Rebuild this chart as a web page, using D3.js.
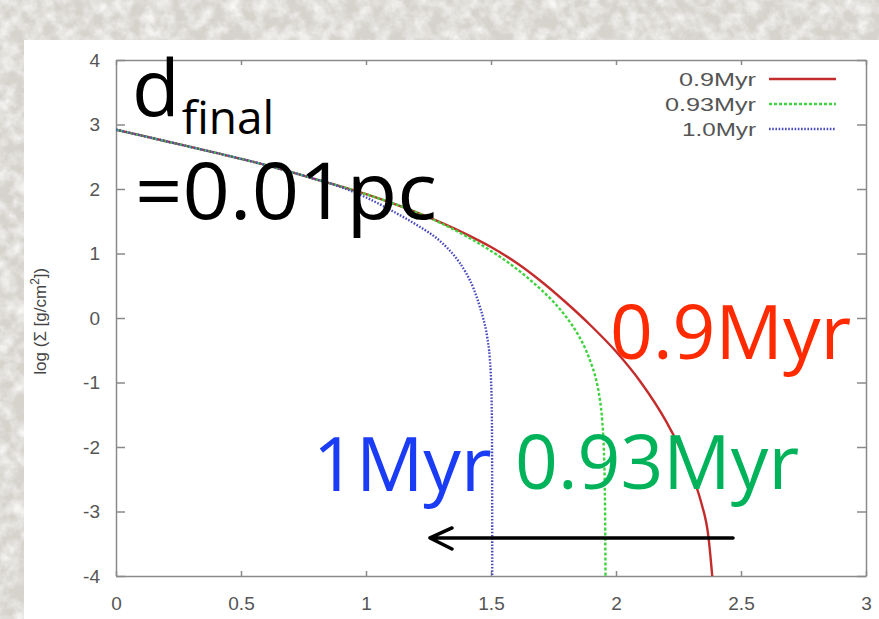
<!DOCTYPE html>
<html>
<head>
<meta charset="utf-8">
<script src="https://cdn.jsdelivr.net/npm/d3@7"></script>
<style>
  html, body { margin: 0; padding: 0; background: #dedbd5; }
  svg { display: block; }
  .tick text { font-family: "Liberation Sans", Arial, sans-serif; font-size: 19px; fill: #555; }
  .axis path, .axis line { stroke: #8a8a8a; stroke-width: 1.5; }
</style>
</head>
<body>
<div id="container"></div>
<script>
/* CONSTANTS AND GLOBALS */
const width = 879,
  height = 619,
  margin = { top: 60, bottom: 43, left: 116, right: 13 };

/* DATA: radius vs log surface density */
const series = ["0.9Myr", "0.93Myr", "1.0Myr"];
const profile09 = [
  [0, 2.92], [0.2, 2.74], [0.4, 2.56], [0.6, 2.37], [0.8, 2.15], [1.0, 1.92],
  [1.2, 1.64], [1.4, 1.30], [1.5, 1.10], [1.6, 0.86], [1.7, 0.57], [1.8, 0.24],
  [1.9, -0.12], [2.0, -0.52], [2.1, -1.0], [2.2, -1.6], [2.3, -2.4],
  [2.34, -2.85], [2.37, -3.4], [2.385, -4.0]
];
const profile093 = [
  [0, 2.92], [0.2, 2.74], [0.4, 2.56], [0.6, 2.37], [0.8, 2.15], [1.0, 1.92],
  [1.2, 1.64], [1.3, 1.47], [1.4, 1.27], [1.5, 1.04], [1.6, 0.77], [1.7, 0.44],
  [1.75, 0.25], [1.8, 0.02], [1.85, -0.27], [1.88, -0.5], [1.9, -0.7],
  [1.92, -0.95], [1.935, -1.25], [1.945, -1.6], [1.951, -2.0], [1.955, -2.6],
  [1.957, -3.3], [1.958, -4.0]
];
const profile10 = [
  [0, 2.92], [0.2, 2.74], [0.4, 2.56], [0.6, 2.37], [0.8, 2.15], [0.9, 2.03],
  [1.0, 1.87], [1.1, 1.67], [1.2, 1.45], [1.3, 1.18], [1.35, 0.98], [1.4, 0.70],
  [1.43, 0.46], [1.455, 0.18], [1.47, -0.02], [1.485, -0.3], [1.495, -0.62],
  [1.5, -0.95], [1.503, -1.4], [1.5045, -2.2], [1.505, -4.0]
];
const xTicks = [0, 0.5, 1, 1.5, 2, 2.5, 3];
const yTicks = [-4, -3, -2, -1, 0, 1, 2, 3, 4];

const colors = ["#c42c2c", "#3fd43f", "#4a4ac0"];
const dashes = [null, "3,2", "1.6,1.6"];

const svg = d3.select("#container")
  .append("svg")
  .attr("width", width)
  .attr("height", height);

// marble-ish background texture
const defs = svg.append("defs");
const f = defs.append("filter").attr("id", "marble")
  .attr("x", 0).attr("y", 0).attr("width", 1).attr("height", 1);
f.append("feTurbulence").attr("type", "fractalNoise")
  .attr("baseFrequency", "0.07").attr("numOctaves", 4).attr("seed", 7);
f.append("feColorMatrix").attr("type", "matrix")
  .attr("values", "0 0 0 0 1  0 0 0 0 1  0 0 0 0 1  1.6 0 0 0 -0.55");
defs.append("clipPath").attr("id", "plotclip")
  .append("rect")
  .attr("x", margin.left).attr("y", margin.top)
  .attr("width", width - margin.left - margin.right)
  .attr("height", height - margin.top - margin.bottom);

svg.append("rect").attr("width", width).attr("height", height).attr("fill", "#d6d3cd");
svg.append("rect").attr("width", width).attr("height", height).attr("filter", "url(#marble)");

// white slide panel
svg.append("rect")
  .attr("x", 24).attr("y", 40)
  .attr("width", width - 24).attr("height", height - 40)
  .attr("fill", "#fff");

// + SCALES
const xScale = d3.scaleLinear().domain([0, 3]).range([margin.left, width - margin.right]);
const yScale = d3.scaleLinear().domain([-4, 4]).range([height - margin.bottom, margin.top]);

// + AXES (gnuplot box, ticks pointing in)
svg.append("g").attr("class", "axis")
  .attr("transform", `translate(0,${height - margin.bottom})`)
  .call(d3.axisBottom(xScale).tickValues(xTicks).tickSize(-5).tickSizeOuter(0)
    .tickPadding(21).tickFormat(d => String(d)));
svg.append("g").attr("class", "axis")
  .attr("transform", `translate(0,${margin.top})`)
  .call(d3.axisTop(xScale).tickValues(xTicks).tickSize(-5).tickSizeOuter(0).tickFormat(""));
svg.append("g").attr("class", "axis")
  .attr("transform", `translate(${margin.left},0)`)
  .call(d3.axisLeft(yScale).tickValues(yTicks).tickSize(-9).tickSizeOuter(0)
    .tickPadding(16).tickFormat(d => String(d)));
svg.append("g").attr("class", "axis")
  .attr("transform", `translate(${width - margin.right},0)`)
  .call(d3.axisRight(yScale).tickValues(yTicks).tickSize(-9).tickSizeOuter(0).tickFormat(""));

// y axis title
const ylab = svg.append("text")
  .attr("transform", `translate(46,${yScale(-0.05)}) rotate(-90)`)
  .attr("text-anchor", "middle")
  .attr("font-family", "Liberation Sans, Arial, sans-serif")
  .attr("font-size", 17)
  .attr("fill", "#444");
ylab.append("tspan").text("log (\u03a3 [g/cm");
ylab.append("tspan").attr("dy", -7).attr("font-size", 12).text("2");
ylab.append("tspan").attr("dy", 7).text("])");

// + LINES
const line = d3.line()
  .x(d => xScale(d[0]))
  .y(d => yScale(d[1]))
  .curve(d3.curveMonotoneX);

const profiles = [profile09, profile093, profile10];
svg.append("g").attr("clip-path", "url(#plotclip)")
  .selectAll("path")
  .data(profiles)
  .join("path")
  .attr("d", line)
  .attr("fill", "none")
  .attr("stroke", (d, i) => colors[i])
  .attr("stroke-width", (d, i) => i === 0 ? 2.4 : 2.4)
  .attr("stroke-dasharray", (d, i) => dashes[i]);

// + LEGEND
const legendWidths = [77, 91, 74];
const legend = svg.append("g")
  .selectAll("g")
  .data(series)
  .join("g")
  .attr("transform", (d, i) => `translate(0,${79 + i * 25})`);
legend.append("text")
  .attr("x", 756).attr("dy", "0.35em")
  .attr("text-anchor", "end")
  .attr("font-family", "Liberation Sans, Arial, sans-serif")
  .attr("font-size", 19)
  .attr("fill", "#555")
  .attr("textLength", (d, i) => legendWidths[i])
  .attr("lengthAdjust", "spacingAndGlyphs")
  .text(d => d);
legend.append("line")
  .attr("x1", 769).attr("x2", 836)
  .attr("stroke", (d, i) => colors[i])
  .attr("stroke-width", 2.6)
  .attr("stroke-dasharray", (d, i) => dashes[i]);

// + ANNOTATIONS
const big = "Open Sans, Noto Sans, sans-serif";
const dlab = svg.append("text")
  .attr("x", xScale(0.064)).attr("y", yScale(3.13))
  .attr("font-family", big).attr("font-size", 78).attr("fill", "#000");
dlab.append("tspan").text("d");
dlab.append("tspan").attr("dy", 18).attr("dx", 2).attr("font-size", 46).text("final");

svg.append("text")
  .attr("x", xScale(0.076)).attr("y", yScale(1.53))
  .attr("font-family", big).attr("font-size", 78).attr("fill", "#000")
  .attr("textLength", 302).attr("lengthAdjust", "spacingAndGlyphs")
  .text("=0.01pc");

const labels = [
  { text: "0.9Myr", x: 1.976, y: -0.64, color: "#ff2a00" },
  { text: "0.93Myr", x: 1.596, y: -2.65, color: "#00b35a" },
  { text: "1Myr", x: 0.788, y: -2.68, color: "#1a3cf5" }
];
svg.selectAll("text.big")
  .data(labels)
  .join("text")
  .attr("class", "big")
  .attr("x", d => xScale(d.x)).attr("y", d => yScale(d.y))
  .attr("font-family", big).attr("font-size", 75)
  .attr("fill", d => d.color)
  .text(d => d.text);

// arrow pointing to smaller radius
const ax0 = xScale(2.468), ax1 = xScale(1.256), ay = yScale(-3.41);
svg.append("path")
  .attr("d", `M${ax0},${ay}H${ax1}M${ax1 + 22},${ay - 10}L${ax1},${ay}L${ax1 + 22},${ay + 11}`)
  .attr("fill", "none")
  .attr("stroke", "#000")
  .attr("stroke-width", 3.5)
  .attr("stroke-linecap", "round")
  .attr("stroke-linejoin", "round");
</script>
</body>
</html>
